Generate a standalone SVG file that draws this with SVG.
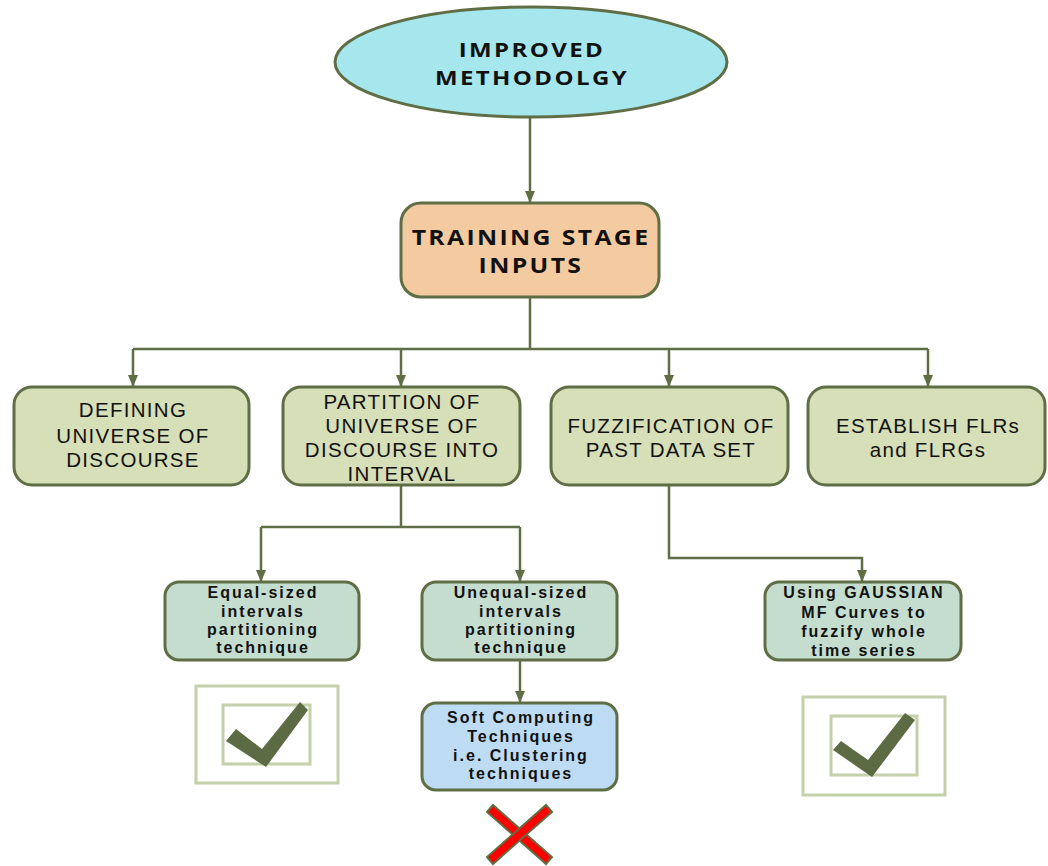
<svg xmlns="http://www.w3.org/2000/svg" width="1048" height="866" viewBox="0 0 1048 866">
<style>
.ln{fill:none;stroke:#5f6e44;stroke-width:2.5}
.bx{stroke:#5f6e44;stroke-width:3}
.g1{fill:#d6dfb7}
.g2{fill:#c5ddcf}
.t{font-family:"Open Sans","Liberation Sans",sans-serif;fill:#111;text-anchor:middle}
.h{font-size:20px;font-weight:bold;letter-spacing:2px}
.h2{font-size:21px;font-weight:bold;letter-spacing:2px}
.m{font-family:"Liberation Sans",Arial,sans-serif;font-size:20.5px;letter-spacing:1.3px}
.s{font-family:"Liberation Sans",Arial,sans-serif;font-size:16px;font-weight:bold;letter-spacing:2px}
.cb{fill:none;stroke:#c3d0a9;stroke-width:3}
.ck{fill:#5d6b45}
</style>
<defs>
<marker id="ah" markerWidth="12" markerHeight="10" refX="11" refY="5" orient="auto" markerUnits="userSpaceOnUse">
<path d="M0,0 L12,5 L0,10 Z" fill="#5f6e44"/>
</marker>
</defs>
<g id="connectors">
<path class="ln" d="M530,118 V202" marker-end="url(#ah)"/>
<path class="ln" d="M530,298 V349 M133,349 H928"/>
<path class="ln" d="M133,349 V386" marker-end="url(#ah)"/>
<path class="ln" d="M401,349 V386" marker-end="url(#ah)"/>
<path class="ln" d="M669,349 V386" marker-end="url(#ah)"/>
<path class="ln" d="M928,349 V386" marker-end="url(#ah)"/>
<path class="ln" d="M401,486 V527 H261 M401,527 H520"/>
<path class="ln" d="M261,527 V581" marker-end="url(#ah)"/>
<path class="ln" d="M520,527 V581" marker-end="url(#ah)"/>
<path class="ln" d="M669,486 V558 H862 V581" marker-end="url(#ah)"/>
<path class="ln" d="M520,660 V702" marker-end="url(#ah)"/>
</g>
<g id="n-improved">
<ellipse class="bx" cx="531" cy="62" rx="196" ry="55" fill="#a6e7ee"/>
<text class="t h" transform="matrix(1.2 0 0 1 532 0)" x="0" y="57">IMPROVED</text>
<text class="t h" transform="matrix(1.2 0 0 1 532 0)" x="0" y="85">METHODOLGY</text>
</g>
<g id="n-training">
<rect class="bx" x="401" y="203" width="258" height="94" rx="20" fill="#f4cba0"/>
<text class="t h2" transform="matrix(1.18 0 0 1 531 0)" x="0" y="245">TRAINING STAGE</text>
<text class="t h2" transform="matrix(1.18 0 0 1 531 0)" x="0" y="273">INPUTS</text>
</g>
<g id="n-defining">
<rect class="bx g1" x="14" y="387" width="235" height="98" rx="18"/>
<text class="t m" x="133" y="417">DEFINING</text>
<text class="t m" x="133" y="443">UNIVERSE OF</text>
<text class="t m" x="133" y="467">DISCOURSE</text>
</g>
<g id="n-partition">
<rect class="bx g1" x="283" y="387" width="237" height="98" rx="18"/>
<text class="t m" x="402" y="409">PARTITION OF</text>
<text class="t m" x="402" y="433">UNIVERSE OF</text>
<text class="t m" x="402" y="457">DISCOURSE INTO</text>
<text class="t m" x="402" y="481">INTERVAL</text>
</g>
<g id="n-fuzzification">
<rect class="bx g1" x="551" y="387" width="237" height="98" rx="18"/>
<text class="t m" x="671" y="433">FUZZIFICATION OF</text>
<text class="t m" x="671" y="457">PAST DATA SET</text>
</g>
<g id="n-establish">
<rect class="bx g1" x="808" y="387" width="237" height="98" rx="18"/>
<text class="t m" x="928" y="433">ESTABLISH FLRs</text>
<text class="t m" x="928" y="457">and FLRGs</text>
</g>
<g id="n-equal">
<rect class="bx g2" x="165" y="582" width="194" height="78" rx="14"/>
<text class="t s" x="263" y="598">Equal-sized</text>
<text class="t s" x="263" y="617">intervals</text>
<text class="t s" x="263" y="635">partitioning</text>
<text class="t s" x="263" y="653">technique</text>
</g>
<g id="n-unequal">
<rect class="bx g2" x="422" y="582" width="195" height="78" rx="14"/>
<text class="t s" x="521" y="598">Unequal-sized</text>
<text class="t s" x="521" y="617">intervals</text>
<text class="t s" x="521" y="635">partitioning</text>
<text class="t s" x="521" y="653">technique</text>
</g>
<g id="n-gaussian">
<rect class="bx g2" x="765" y="582" width="196" height="78" rx="14"/>
<text class="t s" x="864" y="598">Using GAUSSIAN</text>
<text class="t s" x="864" y="618">MF Curves to</text>
<text class="t s" x="864" y="637">fuzzify whole</text>
<text class="t s" x="864" y="656">time series</text>
</g>
<g id="n-soft">
<rect class="bx" x="422" y="703" width="195" height="87" rx="14" fill="#bddcf3"/>
<text class="t s" x="521" y="723">Soft Computing</text>
<text class="t s" x="521" y="742">Techniques</text>
<text class="t s" x="521" y="761">i.e. Clustering</text>
<text class="t s" x="521" y="779">techniques</text>
</g>
<g id="check1">
<rect class="cb" x="196" y="686" width="142" height="97"/>
<rect class="cb" x="223" y="705" width="87" height="59"/>
<polygon class="ck" points="226,741 236,729 262,749 300,702 308,710 266,767"/>
</g>
<g id="check2">
<rect class="cb" x="803" y="697" width="142" height="98"/>
<rect class="cb" x="831" y="716" width="86" height="59"/>
<polygon class="ck" points="833,750 841,741 868,760 905,713 915,720 872,777"/>
</g>
<g id="cross">
<polygon points="487,812 493,805 552,857 546,864" fill="#ff0000" stroke="#5f6e44" stroke-width="2"/>
<polygon points="546,805 552,812 493,864 487,857" fill="#ff0000" stroke="#5f6e44" stroke-width="2"/>
</g>
</svg>
